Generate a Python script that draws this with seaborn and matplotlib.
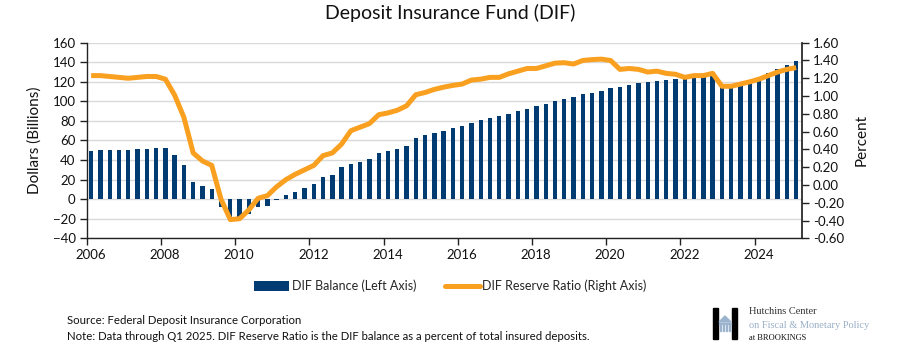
import numpy as np
import pandas as pd
import matplotlib
matplotlib.use("Agg")
import matplotlib.pyplot as plt
import matplotlib.transforms as mtransforms
from matplotlib.patches import Patch, Rectangle, Polygon
from matplotlib.lines import Line2D
import seaborn as sns

# ---------------- data ----------------
quarters = [f"{y}Q{q}" for y in range(2006, 2025) for q in range(1, 5)] + ["2025Q1"]

dif_balance = [
    49.6, 49.8, 50.2, 50.2,
    50.7, 51.2, 51.8, 52.4,
    52.8, 45.2, 34.6, 17.3,
    13.0, 10.4, -8.2, -20.9,
    -20.7, -15.2, -8.0, -7.4,
    -1.0, 3.9, 7.8, 11.8,
    15.3, 22.7, 25.2, 33.0,
    35.7, 37.9, 40.8, 47.2,
    48.9, 51.1, 54.3, 62.8,
    65.3, 67.6, 70.1, 72.6,
    75.1, 77.9, 80.7, 83.2,
    84.9, 87.6, 90.5, 92.7,
    95.1, 97.6, 100.2, 102.6,
    104.9, 107.4, 108.9, 110.3,
    113.2, 115.0, 116.7, 118.4,
    119.8, 120.8, 122.2, 123.2,
    124.2, 124.9, 124.9, 127.5,
    116.1, 117.0, 119.2, 121.2,
    125.3, 129.0, 133.1, 137.3,
    141.0,
]

reserve_ratio = [
    1.23, 1.23, 1.22, 1.21,
    1.20, 1.21, 1.22, 1.22,
    1.19, 1.01, 0.76, 0.36,
    0.27, 0.22, -0.16, -0.39,
    -0.38, -0.28, -0.15, -0.12,
    -0.02, 0.06, 0.12, 0.17,
    0.22, 0.33, 0.36, 0.46,
    0.61, 0.65, 0.69, 0.79,
    0.81, 0.84, 0.89, 1.015,
    1.04, 1.075, 1.10, 1.12,
    1.135, 1.18, 1.19, 1.21,
    1.21, 1.25, 1.28, 1.31,
    1.31, 1.34, 1.37, 1.375,
    1.36, 1.40, 1.41, 1.415,
    1.40, 1.30, 1.31, 1.30,
    1.27, 1.28, 1.255, 1.245,
    1.21, 1.23, 1.23, 1.255,
    1.11, 1.11, 1.135, 1.16,
    1.19, 1.23, 1.27, 1.30,
    1.32,
]

left_ticks = list(range(-40, 161, 20))
right_ticks = [-0.6, -0.4, -0.2, 0.0, 0.2, 0.4, 0.6, 0.8, 1.0, 1.2, 1.4, 1.6]
x_ticks = list(range(2006, 2025, 2))

title = "Deposit Insurance Fund (DIF)"
bar_label = "DIF Balance (Left Axis)"
line_label = "DIF Reserve Ratio (Right Axis)"
source_text = "Source: Federal Deposit Insurance Corporation"
note_text = "Note: Data through Q1 2025. DIF Reserve Ratio is the DIF balance as a percent of total insured deposits."

# ---------------- frame ----------------
def qpos(q):
    y, n = int(q[:4]), int(q[-1])
    return y + (n - 1) * 0.25 + 0.12

df = pd.DataFrame({
    "quarter": quarters,
    "x": [qpos(q) for q in quarters],
    "balance": dif_balance,
    "ratio": reserve_ratio,
})

NAVY = "#003B71"
ORANGE = "#F9A021"
FONT = "Lato"

sns.set_theme(style="white")
plt.rcParams["font.family"] = [FONT, "DejaVu Sans"]

W, H = 901, 353
fig = plt.figure(figsize=(W / 100, H / 100), dpi=100)
ax = fig.add_axes([86.7 / W, 114.7 / H, 715 / W, 195.6 / H])

sns.barplot(data=df, x="x", y="balance", native_scale=True, color=NAVY,
            width=0.47, ax=ax, saturation=1, edgecolor="none", linewidth=0, zorder=2)
ax.set_xlim(2006, 2025.27)
ax.set_ylim(-40, 160)
ax.set_yticks(left_ticks)
ax.set_xticks(x_ticks)
ax.set_xticklabels([str(t) for t in x_ticks])
ax.yaxis.grid(True, color="#D9D9D9", linewidth=1.0, zorder=0)
ax.set_axisbelow(True)
ax.set_xlabel("")
ax.set_ylabel("Dollars (Billions)", fontsize=11, color="#111111", labelpad=8)
for s in ["top", "right"]:
    ax.spines[s].set_visible(False)
for s in ["left", "bottom"]:
    ax.spines[s].set_color("#222222")
    ax.spines[s].set_linewidth(1.0)
ax.tick_params(axis="both", which="major", direction="out", length=5, width=1,
               color="#222222", labelsize=9.5, labelcolor="#111111", pad=3,
               left=True, bottom=True)
offset = mtransforms.ScaledTranslation(4 / 100, 0, fig.dpi_scale_trans)
for lbl in ax.get_xticklabels():
    lbl.set_transform(lbl.get_transform() + offset)

ax2 = ax.twinx()
sns.lineplot(data=df, x="x", y="ratio", color=ORANGE, linewidth=3.6, ax=ax2,
             zorder=3, solid_capstyle="butt", solid_joinstyle="round")
ax2.set_ylim(-0.6, 1.6)
ax2.set_yticks(right_ticks)
ax2.set_yticklabels([f"{v:.2f}" for v in right_ticks])
ax2.set_xlim(2006, 2025.27)
ax2.set_ylabel("Percent", fontsize=11, color="#111111", labelpad=8)
ax2.set_xlabel("")
for s in ["top", "left", "bottom"]:
    ax2.spines[s].set_visible(False)
ax2.spines["right"].set_color("#222222")
ax2.tick_params(axis="y", direction="out", length=5, width=1, color="#222222",
                labelsize=9.5, labelcolor="#111111", pad=3, right=True)
ax2.grid(False)

fig.text(0.5, 1 - 13 / H, title, ha="center", va="center", fontsize=14, color="#111111")

handles = [Patch(facecolor=NAVY, edgecolor="none"),
           Line2D([0], [0], color=ORANGE, linewidth=3.6)]
fig.legend(handles, [bar_label, line_label], loc="center", bbox_to_anchor=(0.5, 1 - 286 / H),
           ncol=2, frameon=False, fontsize=9, handlelength=2.8, handleheight=0.9,
           handletextpad=0.2, columnspacing=2.3)

fig.text(67 / W, 1 - 321 / H, source_text, ha="left", va="center", fontsize=8.2, color="#111111")
fig.text(67 / W, 1 - 337 / H, note_text, ha="left", va="center", fontsize=8.2, color="#111111")

# logo
lax = fig.add_axes([0, 0, 1, 1], zorder=5)
lax.set_xlim(0, W)
lax.set_ylim(H, 0)
lax.axis("off")
lax.add_patch(Rectangle((713, 308), 5, 31, color="black"))
lax.add_patch(Rectangle((732, 308), 5, 31, color="black"))
lax.add_patch(Polygon([[719, 322], [731, 322], [725, 316]], closed=True, color="#9BB3CC"))
lax.add_patch(Rectangle((719, 322.5), 12, 1.2, color="#9BB3CC"))
for cx in [720.5, 723.5, 726.5, 729.5]:
    lax.add_patch(Rectangle((cx - 0.6, 325), 1.3, 6, color="#9BB3CC"))
lax.text(749, 312, "Hutchins Center", fontsize=7.5, family="Liberation Serif", color="#333333", va="center")
lax.text(749, 325, "on Fiscal & Monetary Policy", fontsize=7.5, family="Liberation Serif", color="#9AAFC6", va="center")
lax.text(749, 338, "at BROOKINGS", fontsize=6, family="Liberation Serif", color="#111111", va="center")

fig.savefig("out.png", dpi=100)
